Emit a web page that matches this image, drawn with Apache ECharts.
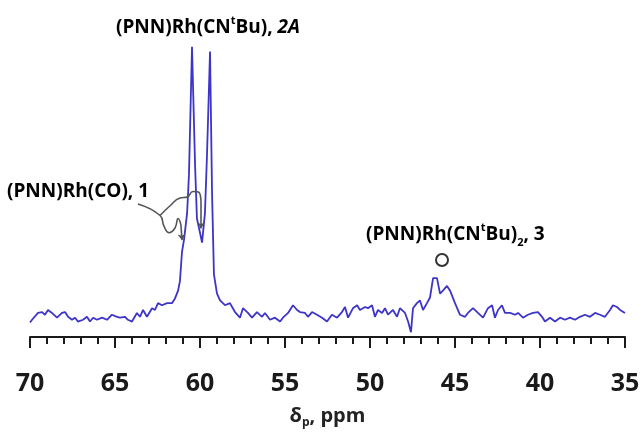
<!DOCTYPE html>
<html>
<head>
<meta charset="utf-8">
<script src="https://cdn.jsdelivr.net/npm/echarts@6/dist/echarts.min.js"></script>
<style>
  html, body { margin: 0; padding: 0; background: #fff; }
  #main { width: 643px; height: 434px; }
</style>
</head>
<body>
<div id="main"></div>
<script>
// chemical shift (ppm) and intensity
const ppm = [
  70.00, 69.88, 69.53, 69.29, 69.12, 68.94, 68.71, 68.41, 68.12, 67.94,
  67.76, 67.53, 67.35, 67.18, 66.88, 66.65, 66.47, 66.29, 66.06, 65.76,
  65.47, 65.18, 64.88, 64.71, 64.41, 64.24, 64.00, 63.71, 63.53, 63.35,
  63.12, 62.82, 62.65, 62.47, 62.24, 61.94, 61.65, 61.47, 61.29, 61.18,
  61.06, 60.94, 60.76, 60.65, 60.47, 60.29, 60.18, 60.00, 59.88, 59.71,
  59.59, 59.41, 59.29, 59.18, 59.00, 58.82, 58.53, 58.24, 57.94, 57.65,
  57.47, 57.18, 56.94, 56.65, 56.35, 56.18, 55.88, 55.59, 55.29, 55.12,
  54.82, 54.53, 54.29, 54.12, 53.82, 53.65, 53.41, 53.12, 52.82, 52.53,
  52.24, 51.94, 51.65, 51.47, 51.29, 51.00, 50.76, 50.59, 50.29, 50.12,
  49.88, 49.71, 49.53, 49.29, 49.12, 48.94, 48.65, 48.41, 48.24, 47.94,
  47.76, 47.59, 47.47, 47.24, 47.06, 46.88, 46.65, 46.47, 46.29, 46.06,
  45.88, 45.71, 45.47, 45.29, 45.00, 44.71, 44.41, 44.24, 43.94, 43.65,
  43.35, 43.06, 42.82, 42.65, 42.47, 42.24, 42.06, 41.76, 41.47, 41.29,
  41.00, 40.71, 40.41, 40.12, 39.88, 39.71, 39.41, 39.12, 38.82, 38.53,
  38.24, 37.94, 37.65, 37.35, 37.06, 36.76, 36.47, 36.18, 35.88, 35.71,
  35.47, 35.29, 35.00
];
const intensity = [
  4.9, 5.8, 8.1, 8.4, 7.5, 9.1, 8.1, 6.5, 8.1, 8.4,
  6.8, 5.8, 6.5, 5.2, 5.8, 6.8, 5.2, 6.5, 5.8, 6.5,
  5.8, 7.5, 6.8, 6.5, 6.8, 5.8, 5.2, 8.1, 6.8, 9.1,
  6.8, 9.7, 9.1, 11.4, 10.7, 11.4, 11.4, 13.0, 15.6, 18.8,
  28.6, 32.8, 41.6, 54.5, 97.7, 57.8, 39.9, 35.1, 31.8, 41.6,
  61.0, 96.1, 48.1, 21.1, 14.6, 12.3, 10.7, 11.4, 8.4, 6.5,
  9.7, 8.1, 6.5, 8.4, 6.8, 8.1, 5.8, 6.5, 5.2, 6.5,
  8.1, 10.7, 9.1, 8.4, 8.1, 6.8, 8.4, 7.5, 6.5, 5.2,
  7.5, 6.5, 8.4, 10.1, 6.5, 9.7, 10.7, 9.1, 10.1, 9.7,
  10.7, 6.8, 9.1, 8.1, 9.7, 7.5, 9.1, 6.8, 9.7, 8.1,
  5.2, 1.6, 9.7, 11.4, 12.3, 9.1, 11.4, 13.3, 19.8, 19.8,
  14.6, 15.6, 17.2, 15.6, 11.4, 7.5, 6.8, 8.1, 9.7, 8.1,
  6.5, 9.7, 10.7, 6.5, 9.1, 10.7, 8.1, 8.1, 7.5, 8.1,
  6.5, 7.5, 8.1, 8.4, 6.8, 5.2, 6.5, 5.2, 6.5, 5.8,
  6.5, 5.8, 6.8, 7.5, 6.8, 8.1, 7.5, 6.8, 9.1, 10.7,
  10.1, 9.1, 8.1
];

// axis
const xMin = 35;
const xMax = 70;
const xStep = 5;

// leader curves for the (PNN)Rh(CO) label, in [ppm, intensity]
const leaderLower = [[63.65, 44.8], [62.35, 40.9], [62.12, 37.3], [61.82, 35.1], [61.47, 36.7], [61.29, 39.9], [61.12, 37.7]];
const leaderUpper = [[62.35, 40.9], [61.76, 44.2], [61.18, 46.8], [60.76, 47.1], [60.41, 49.0], [60.06, 48.7], [59.94, 44.8]];
const arrowHeads = [
  [[61.12, 37.7], [61.06, 32.6]],
  [[59.94, 44.8], [59.94, 36.5]]
];

const myChart = echarts.init(document.getElementById('main'));

const font = 'Open Sans';
const labelRich = {
  a: { fontSize: 19, fontWeight: 'bold', fontFamily: font, color: '#222', lineHeight: 26 },
  sup: { fontSize: 11, fontWeight: 'bold', fontFamily: font, color: '#222', verticalAlign: 'top', lineHeight: 22 },
  sub: { fontSize: 11, fontWeight: 'bold', fontFamily: font, color: '#222', verticalAlign: 'bottom', lineHeight: 22 },
  i: { fontSize: 19, fontWeight: 'bold', fontStyle: 'italic', fontFamily: font, color: '#222', lineHeight: 26 }
};

const option = {
  backgroundColor: '#fff',
  animation: false,
  grid: { left: 30, right: 18, top: 40, bottom: 86 },
  xAxis: {
    type: 'value',
    inverse: true,
    min: xMin,
    max: xMax,
    interval: xStep,
    axisLine: { show: true, lineStyle: { color: '#1a1a1a', width: 2 } },
    axisTick: { show: true, length: 11, lineStyle: { color: '#1a1a1a', width: 2 } },
    minorTick: { show: true, splitNumber: 5, length: 7, lineStyle: { color: '#1a1a1a', width: 2 } },
    splitLine: { show: false },
    axisLabel: { fontSize: 25, fontWeight: 'bold', fontFamily: font, color: '#1a1a1a', margin: 34 },
    name: '{d|δ}{s|p}{d|, ppm}',
    nameLocation: 'middle',
    nameGap: 66,
    nameTextStyle: {
      rich: {
        d: { fontSize: 20, fontWeight: 'bold', fontFamily: font, color: '#222', lineHeight: 26 },
        s: { fontSize: 12, fontWeight: 'bold', fontFamily: font, color: '#222', verticalAlign: 'bottom', lineHeight: 22 }
      }
    }
  },
  yAxis: { type: 'value', min: 0, max: 100, show: false },
  series: [
    {
      type: 'line',
      data: ppm.map((p, i) => [p, intensity[i]]),
      symbol: 'none',
      lineStyle: { color: '#3d34c9', width: 1.8 },
      z: 3
    },
    {
      type: 'line',
      data: leaderLower,
      smooth: 0.5,
      symbol: 'none',
      lineStyle: { color: '#555', width: 1.6 },
      z: 4
    },
    {
      type: 'line',
      data: leaderUpper,
      smooth: 0.5,
      symbol: 'none',
      lineStyle: { color: '#555', width: 1.6 },
      z: 4
    },
    {
      type: 'lines',
      coordinateSystem: 'cartesian2d',
      symbol: ['none', 'arrow'],
      symbolSize: 6,
      lineStyle: { color: '#555', width: 1.6, opacity: 1 },
      data: arrowHeads.map(c => ({ coords: c })),
      z: 4
    }
  ],
  graphic: [
    {
      type: 'text', left: 116, top: 15,
      style: { text: '{a|(PNN)Rh(CN}{sup|t}{a|Bu), }{i|2A}', rich: labelRich }
    },
    {
      type: 'text', left: 7, top: 182,
      style: { text: '{a|(PNN)Rh(CO), 1}', rich: labelRich }
    },
    {
      type: 'text', left: 366, top: 222,
      style: { text: '{a|(PNN)Rh(CN}{sup|t}{a|Bu)}{sub|2}{a|, 3}', rich: labelRich }
    },
    {
      type: 'circle',
      shape: { cx: 442, cy: 260, r: 6 },
      style: { fill: 'none', stroke: '#333', lineWidth: 2 }
    }
  ]
};

myChart.setOption(option);
</script>
</body>
</html>
